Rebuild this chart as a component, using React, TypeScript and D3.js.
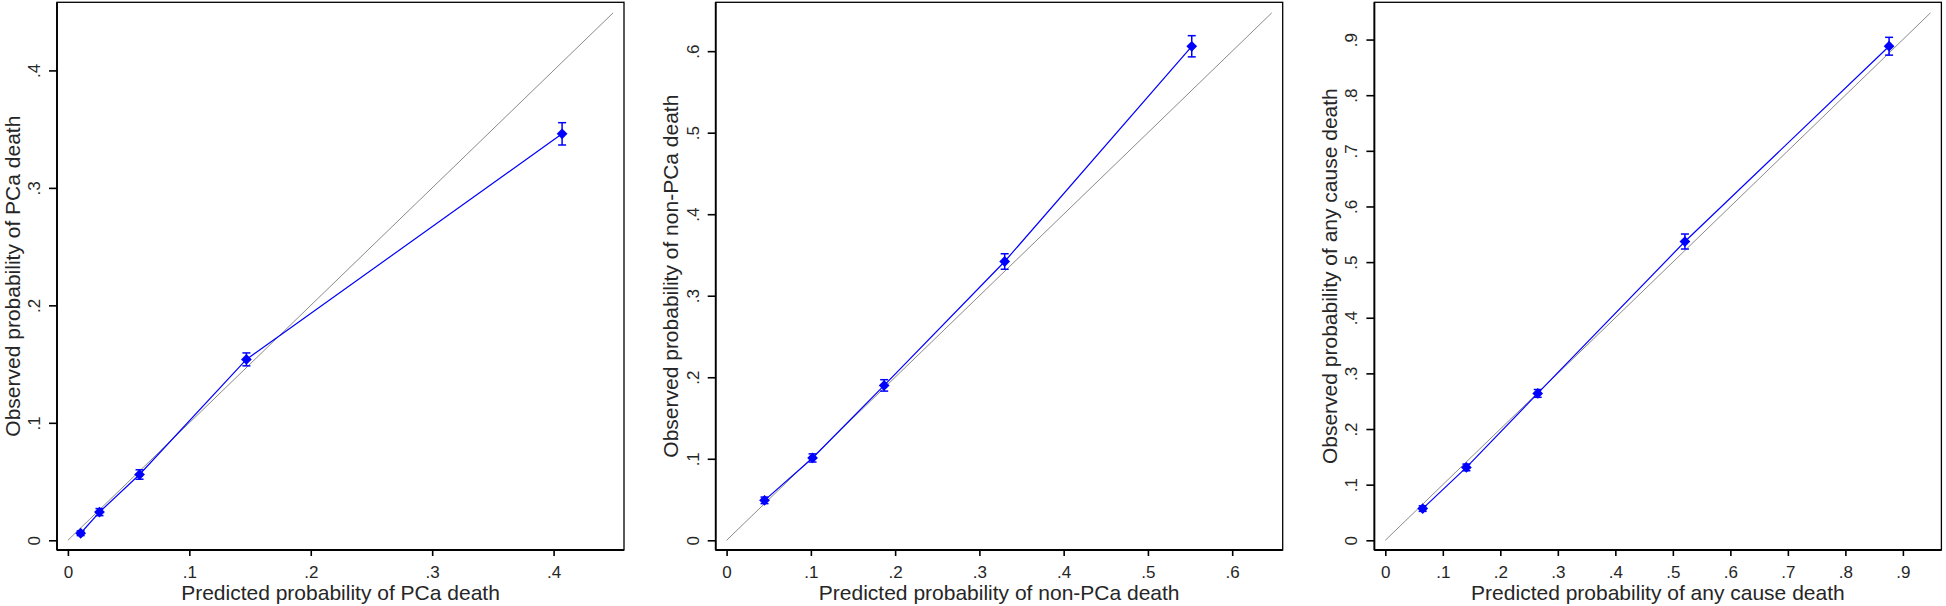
import React, { useEffect, useRef } from "react";
import * as d3 from "d3";

// outcome names used in the axis titles
const outcomes = ["PCa death", "non-PCa death", "any cause death"];

// end of the 45-degree reference line (max predicted) per panel
const diagMax = [0.449, 0.647, 0.948];

// tick values per panel
const ticksPca = [0, 0.1, 0.2, 0.3, 0.4];
const ticksNon = [0, 0.1, 0.2, 0.3, 0.4, 0.5, 0.6];
const ticksAny = [0, 0.1, 0.2, 0.3, 0.4, 0.5, 0.6, 0.7, 0.8, 0.9];

// grouped predicted vs observed with CI half-widths
const pcaPred = [0.0105, 0.026, 0.059, 0.147, 0.407];
const pcaObs = [0.006, 0.024, 0.056, 0.154, 0.346];
const pcaCi = [0.002, 0.003, 0.004, 0.0055, 0.0095];

const nonPred = [0.045, 0.102, 0.187, 0.33, 0.552];
const nonObs = [0.049, 0.101, 0.19, 0.342, 0.606];
const nonCi = [0.004, 0.005, 0.007, 0.0095, 0.013];

const anyPred = [0.065, 0.141, 0.265, 0.521, 0.876];
const anyObs = [0.057, 0.131, 0.264, 0.537, 0.888];
const anyCi = [0.005, 0.006, 0.007, 0.0135, 0.016];

const W = 1946;
const H = 606;
const FONT = "'Liberation Sans', Arial, sans-serif";

const fmt = (d: number) => (d === 0 ? "0" : d3.format(".1f")(d).replace(/^0/, ""));

const App: React.FC = () => {
  const ref = useRef<SVGSVGElement>(null);

  useEffect(() => {
    const svg = d3.select(ref.current);
    svg.selectAll("*").remove();

    const panels = [
      { name: outcomes[0], diag: diagMax[0], ticks: ticksPca, pred: pcaPred, obs: pcaObs, ci: pcaCi },
      { name: outcomes[1], diag: diagMax[1], ticks: ticksNon, pred: nonPred, obs: nonObs, ci: nonCi },
      { name: outcomes[2], diag: diagMax[2], ticks: ticksAny, pred: anyPred, obs: anyObs, ci: anyCi },
    ];

    const left0 = 57;
    const step = 658.7;
    const pw = 567;
    const top = 2.3;
    const bottom = 550;

    panels.forEach((p, i) => {
      const left = left0 + i * step;
      const pad = 0.02 * p.diag;

      const x = d3.scaleLinear().domain([-pad, p.diag + pad]).range([left, left + pw]);
      const y = d3.scaleLinear().domain([-pad * 0.92, p.diag + pad]).range([bottom, top]);

      const g = svg.append("g");

      // plot region box
      g.append("rect")
        .attr("x", left)
        .attr("y", top)
        .attr("width", pw)
        .attr("height", bottom - top)
        .attr("fill", "white")
        .attr("stroke", "#000")
        .attr("stroke-width", 1.3);

      // reference line
      g.append("line")
        .attr("x1", x(0))
        .attr("y1", y(0))
        .attr("x2", x(p.diag))
        .attr("y2", y(p.diag))
        .attr("stroke", "#8a8a8a")
        .attr("stroke-width", 1);

      const pts = p.pred.map((v, k) => ({ px: v, oy: p.obs[k], ci: p.ci[k] }));

      // smoothed calibration line
      const line = d3
        .line<{ px: number; oy: number }>()
        .x((d) => x(d.px))
        .y((d) => y(d.oy));
      g.append("path")
        .datum(pts)
        .attr("d", line)
        .attr("fill", "none")
        .attr("stroke", "#0000ff")
        .attr("stroke-width", 1.2);

      // error bars
      const eb = g.selectAll(".eb").data(pts).enter().append("g");
      eb.append("line")
        .attr("x1", (d) => x(d.px))
        .attr("x2", (d) => x(d.px))
        .attr("y1", (d) => y(d.oy - d.ci))
        .attr("y2", (d) => y(d.oy + d.ci))
        .attr("stroke", "#0000ff")
        .attr("stroke-width", 1.5);
      [1, -1].forEach((s) => {
        eb.append("line")
          .attr("x1", (d) => x(d.px) - 4)
          .attr("x2", (d) => x(d.px) + 4)
          .attr("y1", (d) => y(d.oy + s * d.ci))
          .attr("y2", (d) => y(d.oy + s * d.ci))
          .attr("stroke", "#0000ff")
          .attr("stroke-width", 1.5);
      });

      // diamond markers
      const sym = d3.symbol().type(d3.symbolSquare).size(58);
      g.selectAll(".pt")
        .data(pts)
        .enter()
        .append("path")
        .attr("d", sym() as string)
        .attr("transform", (d) => `translate(${x(d.px)},${y(d.oy)}) rotate(45)`)
        .attr("fill", "#0000ff");

      // x axis
      const xa = g
        .append("g")
        .attr("transform", `translate(0,${bottom})`)
        .call(d3.axisBottom(x).tickValues(p.ticks).tickSize(6).tickSizeOuter(0).tickFormat((d) => fmt(+d)));
      xa.select(".domain").remove();
      xa.selectAll("line").attr("stroke", "#000").attr("stroke-width", 1.6);
      xa.selectAll("text")
        .attr("y", 28)
        .attr("dy", 0)
        .attr("fill", "#262626")
        .style("font-family", FONT)
        .style("font-size", "17px");

      // y axis
      const ya = g
        .append("g")
        .attr("transform", `translate(${left},0)`)
        .call(d3.axisLeft(y).tickValues(p.ticks).tickSize(8).tickSizeOuter(0).tickFormat((d) => fmt(+d)));
      ya.select(".domain").remove();
      ya.selectAll("line").attr("stroke", "#000").attr("stroke-width", 1.6);
      ya.selectAll("text")
        .attr("transform", "rotate(-90)")
        .attr("x", 0)
        .attr("y", -17)
        .attr("dy", 0)
        .attr("text-anchor", "middle")
        .attr("fill", "#262626")
        .style("font-family", FONT)
        .style("font-size", "17px");

      // heavier axis lines on left and bottom
      g.append("line")
        .attr("x1", left)
        .attr("x2", left + pw)
        .attr("y1", bottom)
        .attr("y2", bottom)
        .attr("stroke", "#000")
        .attr("stroke-width", 2.2);
      g.append("line")
        .attr("x1", left)
        .attr("x2", left)
        .attr("y1", top)
        .attr("y2", bottom)
        .attr("stroke", "#000")
        .attr("stroke-width", 1.8);

      // axis titles
      g.append("text")
        .attr("x", left + pw / 2)
        .attr("y", 600)
        .attr("text-anchor", "middle")
        .attr("fill", "#262626")
        .style("font-family", FONT)
        .style("font-size", "21px")
        .text(`Predicted probability of ${p.name}`);

      g.append("text")
        .attr("transform", `translate(${left - 37.5},${(top + bottom) / 2}) rotate(-90)`)
        .attr("text-anchor", "middle")
        .attr("fill", "#262626")
        .style("font-family", FONT)
        .style("font-size", "21px")
        .text(`Observed probability of ${p.name}`);
    });
  }, []);

  return (
    <svg
      ref={ref}
      width={W}
      height={H}
      style={{ position: "absolute", left: 0, top: 0, background: "white" }}
    />
  );
};

export default App;
